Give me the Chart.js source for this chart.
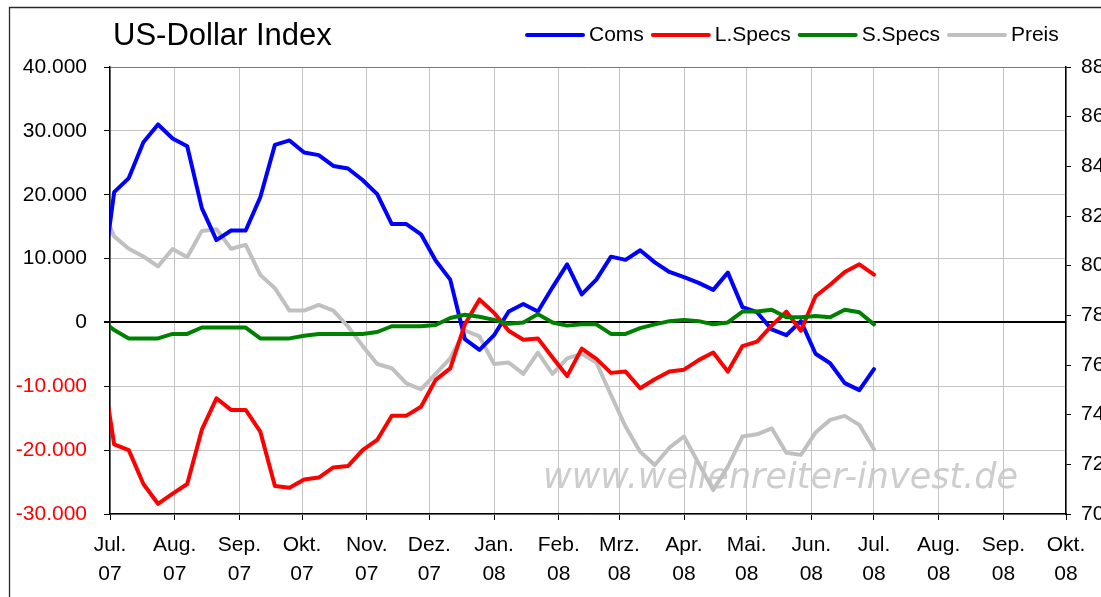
<!DOCTYPE html>
<html>
<head>
<meta charset="utf-8">
<script src="https://cdn.jsdelivr.net/npm/chart.js@4.4.1/dist/chart.umd.min.js"></script>
<style>
  html, body { margin: 0; padding: 0; background: #ffffff; overflow: hidden; }
  #wrap { width: 1101px; height: 597px; }
</style>
</head>
<body>
<div id="wrap"><canvas id="c" width="1101" height="597"></canvas></div>
<script>
// ---- Data (weekly COT reports, Tuesdays) ----
const dates = [
  '2007-06-26','2007-07-03','2007-07-10','2007-07-17','2007-07-24','2007-07-31',
  '2007-08-07','2007-08-14','2007-08-21','2007-08-28','2007-09-04','2007-09-11',
  '2007-09-18','2007-09-25','2007-10-02','2007-10-09','2007-10-16','2007-10-23',
  '2007-10-30','2007-11-06','2007-11-13','2007-11-20','2007-11-27','2007-12-04',
  '2007-12-11','2007-12-18','2007-12-25','2008-01-01','2008-01-08','2008-01-15',
  '2008-01-22','2008-01-29','2008-02-05','2008-02-12','2008-02-19','2008-02-26',
  '2008-03-04','2008-03-11','2008-03-18','2008-03-25','2008-04-01','2008-04-08',
  '2008-04-15','2008-04-22','2008-04-29','2008-05-06','2008-05-13','2008-05-20',
  '2008-05-27','2008-06-03','2008-06-10','2008-06-17','2008-06-24','2008-07-01'
];
const coms = [
  3300, 20400, 22600, 28200, 31000, 28800, 27600, 17900, 12900, 14400, 14400, 19600,
  27800, 28500, 26600, 26200, 24500, 24100, 22300, 20100, 15400, 15400, 13800, 9700,
  6700, -2600, -4300, -2000, 1700, 2900, 1700, 5500, 9100, 4400, 6700, 10300,
  9800, 11300, 9400, 7900, 7100, 6200, 5100, 7800, 2400, 1600, -1100, -2000,
  200, -4900, -6400, -9500, -10600, -7300
];
const lSpecs = [
  -4400, -19100, -20000, -25300, -28400, -26800, -25300, -16800, -11900, -13700, -13700, -17100,
  -25600, -25900, -24600, -24300, -22700, -22500, -20000, -18400, -14600, -14600, -13200, -9000,
  -7200, -300, 3600, 1500, -1300, -2700, -2500, -5500, -8400, -4100, -5700, -7900,
  -7700, -10300, -8900, -7700, -7400, -5900, -4700, -7700, -3700, -3000, -500, 1700,
  -1300, 4100, 5900, 7900, 9100, 7500
];
const sSpecs = [
  600, -1200, -2500, -2500, -2500, -1800, -1800, -800, -800, -800, -800, -2500,
  -2500, -2500, -2100, -1800, -1800, -1800, -1800, -1500, -600, -600, -600, -400,
  700, 1200, 900, 400, -200, 0, 1300, 0, -500, -300, -300, -1800,
  -1800, -900, -300, 200, 400, 200, -300, 0, 1700, 1700, 2000, 800,
  800, 1000, 800, 2000, 1600, -300
];
const preis = [
  82.58, 81.18, 80.68, 80.37, 79.97, 80.67, 80.34, 81.40, 81.47, 80.68, 80.84, 79.63,
  79.09, 78.19, 78.19, 78.42, 78.19, 77.55, 76.77, 76.04, 75.87, 75.26, 75.02, 75.64,
  76.27, 77.39, 77.15, 76.04, 76.10, 75.64, 76.50, 75.64, 76.27, 76.45, 76.10, 74.79,
  73.52, 72.51, 71.97, 72.67, 73.12, 72.04, 70.97, 71.91, 73.12, 73.21, 73.45, 72.47,
  72.38, 73.28, 73.79, 73.95, 73.59, 72.61
];
const monthStarts = [
  '2007-07-01','2007-08-01','2007-09-01','2007-10-01','2007-11-01','2007-12-01',
  '2008-01-01','2008-02-01','2008-03-01','2008-04-01','2008-05-01','2008-06-01',
  '2008-07-01','2008-08-01','2008-09-01','2008-10-01'
];
const monthLabels = [
  ['Jul.','07'],['Aug.','07'],['Sep.','07'],['Okt.','07'],['Nov.','07'],['Dez.','07'],
  ['Jan.','08'],['Feb.','08'],['Mrz.','08'],['Apr.','08'],['Mai.','08'],['Jun.','08'],
  ['Jul.','08'],['Aug.','08'],['Sep.','08'],['Okt.','08']
];
const seriesNames = ['Coms', 'L.Specs', 'S.Specs', 'Preis'];
const seriesColors = ['#0000ff', '#ff0000', '#008000', '#c0c0c0'];
const titleText = 'US-Dollar Index';
const watermarkText = 'www.wellenreiter-invest.de';

// ---- helpers ----
const ORIGIN = Date.UTC(2007, 6, 1);
const toDay = s => { const p = s.split('-').map(Number); return (Date.UTC(p[0], p[1] - 1, p[2]) - ORIGIN) / 86400000; };
const xDays = dates.map(toDay);
const monthDays = monthStarts.map(toDay);
const pts = arr => arr.map((v, i) => ({ x: xDays[i], y: v }));
const fmt = v => (v < 0 ? '-' : '') + Math.abs(v).toString().replace(/\B(?=(\d{3})+(?!\d))/g, '.');
const FONT = '"Liberation Sans", Arial, sans-serif';

const decorPlugin = {
  id: 'decor',
  beforeDraw(chart) {
    const ctx = chart.ctx;
    ctx.save();
    ctx.fillStyle = '#ffffff';
    ctx.fillRect(0, 0, chart.width, chart.height);
    // outer frame
    ctx.strokeStyle = '#2a2a2a';
    ctx.lineWidth = 1.3;
    ctx.beginPath();
    ctx.moveTo(9.5, chart.height + 5);
    ctx.lineTo(9.5, 7.5);
    ctx.lineTo(chart.width + 5, 7.5);
    ctx.stroke();
    // watermark
    ctx.font = 'italic 35px "DejaVu Sans", Verdana, sans-serif';
    ctx.fillStyle = '#cdcdcd';
    ctx.textBaseline = 'alphabetic';
    ctx.textAlign = 'left';
    ctx.filter = 'blur(0.5px)';
    ctx.fillText(watermarkText, 543, 488);
    ctx.filter = 'none';
    ctx.restore();
  },
  afterDraw(chart) {
    const ctx = chart.ctx;
    ctx.save();
    // title
    ctx.fillStyle = '#000000';
    ctx.font = '31px ' + FONT;
    ctx.textAlign = 'left';
    ctx.textBaseline = 'alphabetic';
    ctx.fillText(titleText, 113, 45);
    // legend
    ctx.font = '21px ' + FONT;
    ctx.textBaseline = 'middle';
    let x = 527;
    const y = 35;
    seriesNames.forEach((name, i) => {
      ctx.strokeStyle = seriesColors[i];
      ctx.lineWidth = 4;
      ctx.lineCap = 'round';
      ctx.beginPath();
      ctx.moveTo(x, y);
      ctx.lineTo(x + 56, y);
      ctx.stroke();
      ctx.fillStyle = '#000000';
      ctx.fillText(name, x + 62, y);
      x += 62 + ctx.measureText(name).width + 9;
    });
    ctx.restore();
  }
};

const lineDs = (label, data, color, axis, order) => ({
  label, data: pts(data), borderColor: color, backgroundColor: color,
  borderWidth: 4, pointRadius: 0, pointHoverRadius: 0, tension: 0,
  yAxisID: axis, order, clip: { left: 0, top: 3, right: 3, bottom: 3 },
  borderJoinStyle: 'round', borderCapStyle: 'round'
});

new Chart(document.getElementById('c'), {
  type: 'line',
  data: {
    datasets: [
      lineDs(seriesNames[0], coms, seriesColors[0], 'y', 2),
      lineDs(seriesNames[1], lSpecs, seriesColors[1], 'y', 1),
      lineDs(seriesNames[2], sSpecs, seriesColors[2], 'y', 0),
      lineDs(seriesNames[3], preis, seriesColors[3], 'y1', 3)
    ]
  },
  options: {
    responsive: false,
    animation: false,
    devicePixelRatio: 1,
    layout: { padding: { top: 67, left: 0, right: 0, bottom: 0 } },
    plugins: { legend: { display: false }, title: { display: false }, tooltip: { enabled: false } },
    scales: {
      x: {
        type: 'linear', position: 'bottom',
        min: 0, max: toDay('2008-10-01'),
        afterBuildTicks: s => { s.ticks = monthDays.map(v => ({ value: v })); },
        afterFit: s => { s.height = 83; },
        ticks: {
          autoSkip: false, maxRotation: 0, minRotation: 0, padding: 11,
          color: '#000000', font: { family: FONT, size: 21, lineHeight: 1.38 },
          callback: (v, i) => monthLabels[i]
        },
        grid: { color: '#c4c4c4', lineWidth: 1, tickColor: '#000000', tickLength: 6, drawTicks: true },
        border: { color: '#000000', width: 1.5 }
      },
      y: {
        position: 'left', min: -30000, max: 40000,
        afterFit: s => { s.width = 110; },
        ticks: {
          stepSize: 10000, padding: 17,
          font: { family: FONT, size: 21 },
          color: c => (c.tick && c.tick.value < 0 ? '#ff0000' : '#000000'),
          callback: v => fmt(v)
        },
        grid: {
          color: c => (c.tick && c.tick.value === 0 ? '#000000' : (c.tick && c.tick.value === 40000 ? '#7a7a7a' : '#c4c4c4')),
          lineWidth: c => (c.tick && c.tick.value === 0 ? 2 : 1),
          tickColor: '#000000', tickLength: 6
        },
        border: { color: '#000000', width: 1.5 }
      },
      y1: {
        position: 'right', min: 70, max: 88,
        afterFit: s => { s.width = 35; },
        ticks: { stepSize: 2, padding: 10, color: '#000000', font: { family: FONT, size: 21 } },
        grid: { drawOnChartArea: false, tickColor: '#000000', tickLength: 5 },
        border: { color: '#000000', width: 1.5 }
      }
    }
  },
  plugins: [decorPlugin]
});
</script>
</body>
</html>
